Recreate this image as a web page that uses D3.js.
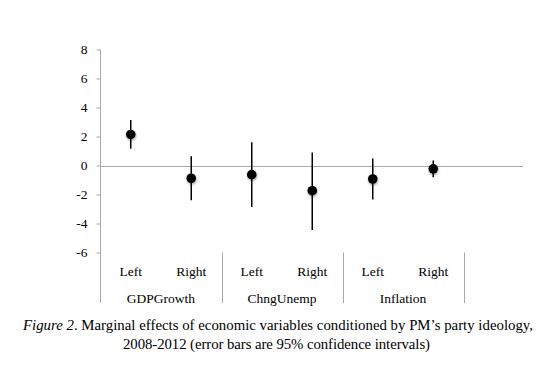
<!DOCTYPE html>
<html>
<head>
<meta charset="utf-8">
<script src="https://cdn.jsdelivr.net/npm/d3@7"></script>
<style>
  body { margin: 0; background: #fff; }
  svg { display: block; }
</style>
</head>
<body>
<svg></svg>
<script>
const width  = 549,
      height = 367,
      svg = d3.select("svg").attr("width", width).attr("height", height);

// data
const groups   = ["GDPGrowth", "ChngUnemp", "Inflation"];
const sides    = ["Left", "Right"];
const estimate = [2.14, -0.88, -0.63, -1.74, -0.93, -0.23];
const ciLow    = [1.16, -2.40, -2.86, -4.44, -2.35, -0.81];
const ciHigh   = [3.13, 0.63, 1.60, 0.90, 0.49, 0.35];
const yTicks   = [8, 6, 4, 2, 0, -2, -4, -6];

const points = estimate.map((v, i) => ({
  key: groups[Math.floor(i / 2)] + "-" + sides[i % 2],
  side: sides[i % 2],
  est: v, lo: ciLow[i], hi: ciHigh[i]
}));

const x = d3.scaleBand()
  .domain(points.map(d => d.key))
  .range([100.5, 463.5]);

const y = d3.scaleLinear()
  .domain([-6, 8])
  .range([252.5, 49.5]);

const axisColor = "#a8a8a8";
const serif = '"Liberation Serif"';

// zero line
svg.append("line")
  .attr("x1", 100.5).attr("x2", 523)
  .attr("y1", Math.round(y(0)) + 0.5).attr("y2", Math.round(y(0)) + 0.5)
  .attr("stroke", axisColor);

// y axis
const yAxis = svg.append("g")
  .attr("transform", "translate(100.5,0)")
  .call(d3.axisLeft(y).tickValues(yTicks).tickSize(4).tickPadding(9)
    .tickFormat(d => String(d)));
yAxis.select(".domain").remove();
yAxis.selectAll(".tick line").attr("stroke", axisColor);
yAxis.selectAll(".tick text")
  .style("font-family", serif)
  .style("font-size", "13.5px");
svg.append("line")
  .attr("x1", 100.5).attr("x2", 100.5)
  .attr("y1", y(8)).attr("y2", 303)
  .attr("stroke", axisColor);

// group separators
svg.selectAll(".sep")
  .data(groups.map(g => x(g + "-Right") + x.bandwidth()))
  .join("line")
  .attr("class", "sep")
  .attr("x1", d => Math.round(d) + 0.5).attr("x2", d => Math.round(d) + 0.5)
  .attr("y1", y(-6)).attr("y2", 303)
  .attr("stroke", axisColor);

// category labels
svg.selectAll(".side")
  .data(points)
  .join("text")
  .attr("class", "side")
  .attr("x", d => x(d.key) + x.bandwidth() / 2)
  .attr("y", 275.5)
  .attr("text-anchor", "middle")
  .style("font-family", serif)
  .style("font-size", "13.5px")
  .text(d => d.side);

svg.selectAll(".group")
  .data(groups)
  .join("text")
  .attr("class", "group")
  .attr("x", d => x(d + "-Left") + x.bandwidth())
  .attr("y", 303)
  .attr("text-anchor", "middle")
  .style("font-family", serif)
  .style("font-size", "13.5px")
  .text(d => d);

// shadow for markers
const defs = svg.append("defs");
const f = defs.append("filter").attr("id", "shadow")
  .attr("x", "-50%").attr("y", "-50%").attr("width", "200%").attr("height", "200%");
f.append("feDropShadow")
  .attr("dx", 0.5).attr("dy", 1.5)
  .attr("stdDeviation", 1.2)
  .attr("flood-color", "#000")
  .attr("flood-opacity", 0.35);

// error bars
svg.selectAll(".err")
  .data(points)
  .join("line")
  .attr("class", "err")
  .attr("x1", d => x(d.key) + x.bandwidth() / 2)
  .attr("x2", d => x(d.key) + x.bandwidth() / 2)
  .attr("y1", d => y(d.hi)).attr("y2", d => y(d.lo))
  .attr("stroke", "#000")
  .attr("stroke-width", 1.5);

svg.selectAll(".dot")
  .data(points)
  .join("circle")
  .attr("class", "dot")
  .attr("cx", d => x(d.key) + x.bandwidth() / 2)
  .attr("cy", d => y(d.est))
  .attr("r", 4.8)
  .attr("fill", "#000")
  .attr("filter", "url(#shadow)");

// caption
const l1 = svg.append("text").attr("x", 278).attr("y", 329.5).attr("text-anchor", "middle")
  .attr("textLength", 510).attr("lengthAdjust", "spacing")
  .style("font-family", serif).style("font-size", "14.8px");
l1.append("tspan").style("font-style", "italic").text("Figure 2");
l1.append("tspan").text(". Marginal effects of economic variables conditioned by PM\u2019s party ideology,");
svg.append("text").attr("x", 276.5).attr("y", 349).attr("text-anchor", "middle")
  .attr("textLength", 307).attr("lengthAdjust", "spacing")
  .style("font-family", serif).style("font-size", "14.8px")
  .text("2008-2012 (error bars are 95% confidence intervals)");
</script>
</body>
</html>
